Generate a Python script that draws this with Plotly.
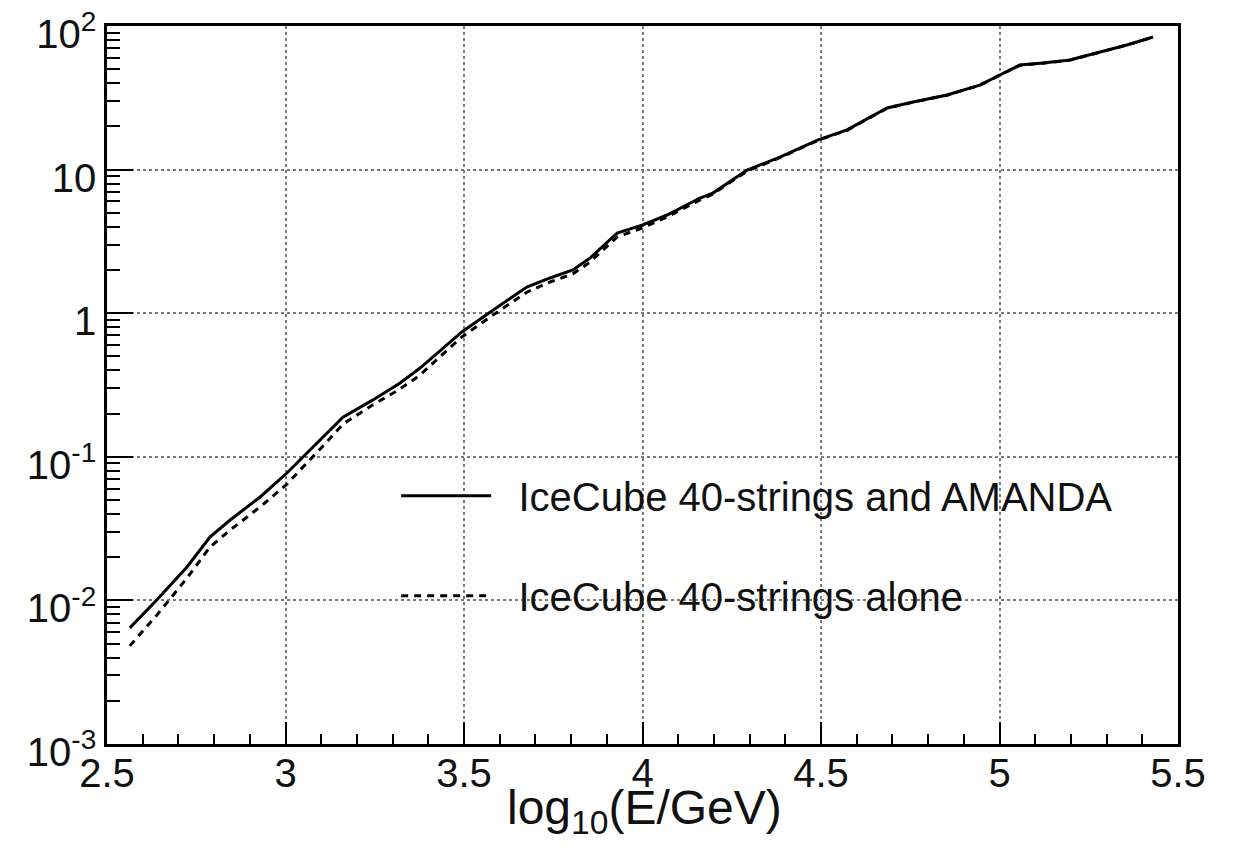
import plotly.graph_objects as go

# log10(E/GeV)
x_solid = [2.564, 2.640, 2.724, 2.789, 2.845, 2.929, 3.004, 3.060, 3.116, 3.161, 3.245,
           3.321, 3.377, 3.413, 3.494, 3.581, 3.676, 3.741, 3.805, 3.853, 3.929, 3.999,
           4.069, 4.161, 4.197, 4.293, 4.385, 4.492, 4.573, 4.685, 4.758, 4.853, 4.945,
           5.001, 5.057, 5.122, 5.197, 5.282, 5.357, 5.430]
y_solid = [0.00643, 0.0101, 0.0171, 0.0277, 0.0363, 0.0525, 0.0771, 0.106, 0.147, 0.189, 0.249,
           0.327, 0.415, 0.495, 0.740, 1.05, 1.52, 1.76, 2.00, 2.42, 3.62, 4.11,
           4.83, 6.34, 6.87, 9.93, 12.2, 16.1, 18.9, 26.9, 29.6, 33.1, 38.8,
           45.6, 53.5, 55.2, 58.0, 65.9, 73.8, 83.8]

x_dash = [2.564, 2.640, 2.724, 2.789, 2.845, 2.929, 3.004, 3.060, 3.116, 3.161, 3.245,
          3.321, 3.377, 3.413, 3.494, 3.581, 3.676, 3.741, 3.805, 3.853, 3.929, 3.999,
          4.069, 4.161, 4.197, 4.293, 4.385, 4.492, 4.573, 4.685, 4.758, 4.853, 4.945,
          5.001, 5.057, 5.122, 5.197, 5.282, 5.357, 5.430]
y_dash = [0.00482, 0.00792, 0.0143, 0.0236, 0.0309, 0.0447, 0.0646, 0.0902, 0.127, 0.169, 0.230,
          0.297, 0.371, 0.449, 0.683, 0.97, 1.40, 1.65, 1.88, 2.27, 3.40, 3.92,
          4.68, 6.14, 6.76, 9.77, 12.1, 16.0, 18.8, 26.8, 29.5, 33.0, 38.7,
          45.5, 53.4, 55.1, 57.9, 65.8, 73.7, 83.7]

series_names = ["IceCube 40-strings and AMANDA", "IceCube 40-strings alone"]
x_title = "log<sub>10</sub>(E/GeV)"

y_tickvals = [1e-3, 1e-2, 1e-1, 1, 10, 100]
y_ticktext = ["10<sup>-3</sup>", "10<sup>-2</sup>", "10<sup>-1</sup>", "1", "10", "10<sup>2</sup>"]
y_minor_vals = [m * 10.0 ** k for k in range(-3, 2) for m in range(2, 10)]

FONT = "Liberation Sans, Arial, Helvetica, sans-serif"
PAD = "\u00a0\u00a0"

fig = go.Figure()
fig.add_trace(go.Scatter(x=x_solid, y=y_solid, mode="lines", name=PAD + series_names[0],
                         legendgroup="a",
                         line=dict(color="black", width=3)))
fig.add_trace(go.Scatter(x=x_dash, y=y_dash, mode="lines", name=PAD + series_names[1],
                         legendgroup="b",
                         line=dict(color="black", width=3, dash="7px,6px")))

axis_common = dict(showline=True, linecolor="black", linewidth=2.5, mirror=True,
                   ticks="inside", tickcolor="black", tickwidth=2,
                   showgrid=True, gridcolor="#7a7a7a", gridwidth=1.5, griddash="dot",
                   zeroline=False, ticklabeloverflow="allow", automargin=False,
                   tickfont=dict(family=FONT, size=40, color="#111"))

fig.update_layout(
    width=1236, height=857,
    margin=dict(l=107, r=58, t=26, b=113),
    paper_bgcolor="white", plot_bgcolor="white",
    font=dict(family=FONT, color="#111"),
    xaxis=dict(range=[2.5, 5.5], tick0=2.5, dtick=0.5, ticklen=22,
               ticklabelstandoff=-8,
               minor=dict(dtick=0.1, ticks="inside", ticklen=10, tickcolor="black",
                          tickwidth=2, showgrid=False),
               **axis_common),
    yaxis=dict(type="log", range=[-3.0003, 2.0003], tickvals=y_tickvals, ticktext=y_ticktext,
               ticklen=26, ticklabelshift=8,
               minor=dict(tickvals=y_minor_vals, ticks="inside", ticklen=13, tickcolor="black",
                          tickwidth=2, showgrid=False),
               **axis_common),
    showlegend=True,
    legend=dict(x=0.27, y=0.391, xanchor="left", yanchor="top",
                bgcolor="rgba(0,0,0,0)", borderwidth=0,
                font=dict(family=FONT, size=40, color="#111"),
                itemwidth=90, tracegroupgap=45),
    annotations=[dict(text=x_title, xref="paper", yref="paper", x=0.502, y=-0.094,
                      xanchor="center", yanchor="middle", showarrow=False,
                      font=dict(family=FONT, size=48, color="#111"))],
)

fig.write_html("out.html")
